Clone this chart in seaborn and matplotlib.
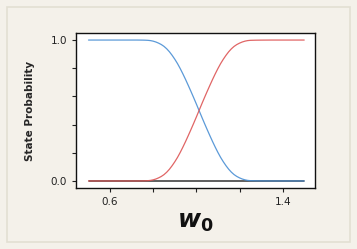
import matplotlib
matplotlib.use('Agg')
import matplotlib.pyplot as plt
import pandas as pd
import seaborn as sns
from matplotlib.patches import Rectangle

# values
w0 = [0.50, 0.55, 0.60, 0.65, 0.70, 0.725, 0.75, 0.7625, 0.775, 0.7875,
      0.80, 0.8125, 0.825, 0.8375, 0.85, 0.8625, 0.875, 0.8875, 0.90,
      0.9125, 0.925, 0.9375, 0.95, 0.9625, 0.975, 0.9875, 1.00,
      1.0125, 1.025, 1.0375, 1.05, 1.0625, 1.075, 1.0875, 1.10, 1.1125,
      1.125, 1.1375, 1.15, 1.1625, 1.175, 1.1875, 1.20, 1.2125, 1.225,
      1.2375, 1.25, 1.275, 1.30, 1.35, 1.40, 1.45, 1.50]
state_a = [1.0, 1.0, 1.0, 1.0, 1.0, 1.0, 0.9995, 0.999, 0.998, 0.996,
           0.992, 0.986, 0.978, 0.968, 0.955, 0.938, 0.917, 0.892, 0.864,
           0.833, 0.798, 0.76, 0.72, 0.678, 0.635, 0.591, 0.546, 0.50,
           0.454, 0.409, 0.365, 0.322, 0.28, 0.24, 0.202, 0.167, 0.136,
           0.108, 0.083, 0.062, 0.045, 0.032, 0.022, 0.014, 0.008, 0.004,
           0.002, 0.001, 0.0005, 0.0, 0.0, 0.0, 0.0]
state_b = [0.0, 0.0, 0.0, 0.0, 0.0, 0.0, 0.0005, 0.001, 0.002, 0.004,
           0.008, 0.014, 0.022, 0.032, 0.045, 0.062, 0.083, 0.108, 0.136,
           0.167, 0.202, 0.24, 0.28, 0.322, 0.365, 0.409, 0.454, 0.50,
           0.546, 0.591, 0.635, 0.678, 0.72, 0.76, 0.798, 0.833, 0.864,
           0.892, 0.917, 0.938, 0.955, 0.968, 0.978, 0.986, 0.992, 0.996,
           0.998, 0.999, 0.9995, 1.0, 1.0, 1.0, 1.0]
baseline = [0.0] * len(w0)

x_ticks = [0.6, 0.8, 1.0, 1.2, 1.4]
x_tick_labels = ['0.6', '', '', '', '1.4']
y_ticks = [0.0, 0.2, 0.4, 0.6, 0.8, 1.0]
y_tick_labels = ['0.0', '', '', '', '', '1.0']

df = pd.DataFrame({'w0': w0, 'a': state_a, 'b': state_b, 'base': baseline})

sns.set_style('ticks')
plt.rcParams['font.family'] = ['DejaVu Sans']
plt.rcParams['mathtext.fontset'] = 'custom'
plt.rcParams['mathtext.it'] = 'DejaVu Sans:bold:italic'
plt.rcParams['mathtext.rm'] = 'DejaVu Sans:bold'

bg = '#f4f1ea'
fig = plt.figure(figsize=(3.57, 2.49), dpi=100, facecolor=bg)
fig.patches.append(Rectangle((7 / 357, 7 / 249), 343 / 357, 235 / 249,
                             transform=fig.transFigure, facecolor='none',
                             edgecolor='#e2dfd3', linewidth=1.2, zorder=-5))
ax = fig.add_axes([76 / 357, 1 - 188 / 249, 239 / 357, 155 / 249])
ax.set_zorder(2)

sns.lineplot(data=df, x='w0', y='base', ax=ax, color='#333333', linewidth=1.1)
sns.lineplot(data=df, x='w0', y='a', ax=ax, color='#4a8fd4', linewidth=0.9, alpha=0.9)
sns.lineplot(data=df, x='w0', y='b', ax=ax, color='#dd5555', linewidth=0.9, alpha=0.9)

ax.set_xlim(0.442, 1.55)
ax.set_ylim(-0.05, 1.05)
ax.set_xticks(x_ticks)
ax.set_xticklabels(x_tick_labels)
ax.set_yticks(y_ticks)
ax.set_yticklabels(y_tick_labels)
ax.tick_params(labelsize=7.5, colors='#222222', length=3, width=0.8)
for s in ax.spines.values():
    s.set_visible(True)
    s.set_linewidth(1.0)
    s.set_color('#111111')

ax.set_ylabel('State Probability', fontsize=7.5, fontweight='bold', labelpad=11)
ax.set_xlabel(r'$w_0$', fontsize=18, labelpad=2, color='#111111')

fig.savefig('out.png', dpi=100, facecolor=bg)
